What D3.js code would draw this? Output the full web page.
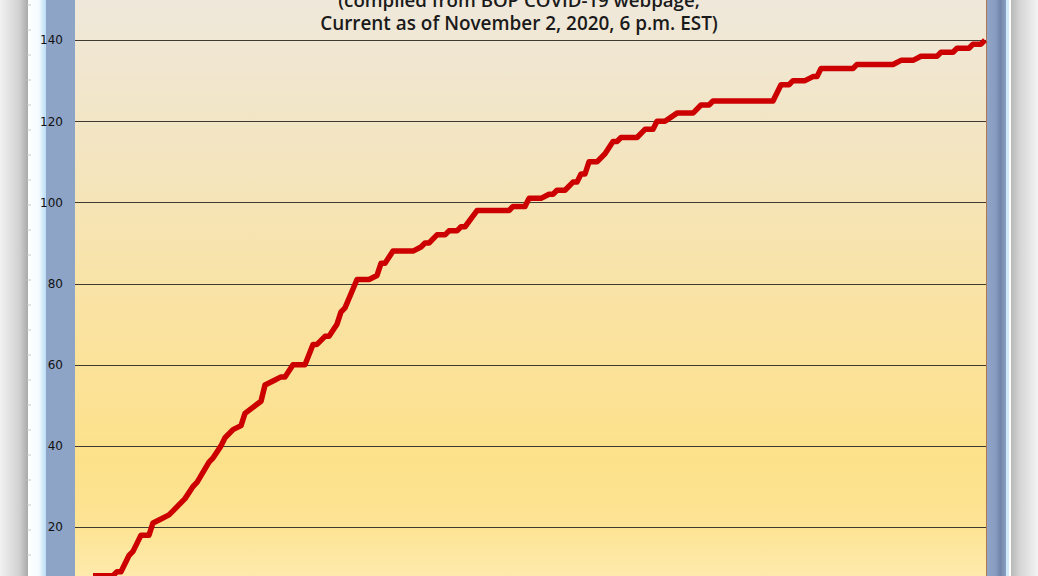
<!DOCTYPE html>
<html><head><meta charset="utf-8">
<script src="https://cdn.jsdelivr.net/npm/d3@7"></script>
<style>html,body{margin:0;padding:0;background:#fff;overflow:hidden}</style>
</head><body>
<svg id="c" width="1038" height="576"></svg>
<script>
// Day index since first data point (daily), and cumulative deaths
const days   = [0,5,6,7,9,10,12,14,15,17,19,20,23,25,26,29,30,32,33,35,37,38,42,43,45,47,48,50,53,55,56,58,59,61,62,63,66,69,71,72,73,75,80,82,83,84,86,88,89,91,92,93,96,104,105,108,109,112,114,115,116,118,120,121,122,123,124,126,128,130,131,132,136,138,140,141,143,146,150,152,154,155,170,172,174,175,178,180,181,182,190,191,200,202,205,207,211,212,215,216,219,220,222,223];
const deaths = [8,8,9,9,13,14,18,18,21,22,23,24,27,30,31,36,37,40,42,44,45,48,51,55,56,57,57,60,60,65,65,67,67,70,73,74,81,81,82,85,85,88,88,89,90,90,92,92,93,93,94,94,98,98,99,99,101,101,102,102,103,103,105,105,107,107,110,110,112,115,115,116,116,118,118,120,120,122,122,124,124,125,125,129,129,130,130,131,131,133,133,134,134,135,135,136,136,137,137,138,138,139,139,140];
const yTicks = [20,40,60,80,100,120,140];
const titleLines = ["(compiled from BOP COVID-19 webpage,", "Current as of November 2, 2020, 6 p.m. EST)"];

const svg = d3.select("#c");
const W = 1038, H = 576;
const plot = {x0: 75, x1: 986};
const defs = svg.append("defs");

// shadows
const gl = defs.append("linearGradient").attr("id","shL");
gl.append("stop").attr("offset","0%").attr("stop-color","#f2f2f2");
gl.append("stop").attr("offset","70%").attr("stop-color","#d0d0d0");
gl.append("stop").attr("offset","100%").attr("stop-color","#a9a9a9");
const gr = defs.append("linearGradient").attr("id","shR");
gr.append("stop").attr("offset","0%").attr("stop-color","#b9b9b9");
gr.append("stop").attr("offset","35%").attr("stop-color","#d6d6d6");
gr.append("stop").attr("offset","100%").attr("stop-color","#f3f3f3");
const gw = defs.append("linearGradient").attr("id","wl");
gw.append("stop").attr("offset","0%").attr("stop-color","#ffffff");
gw.append("stop").attr("offset","60%").attr("stop-color","#f4fbff");
gw.append("stop").attr("offset","100%").attr("stop-color","#b9dcf4");
const gb = defs.append("linearGradient").attr("id","br");
gb.append("stop").attr("offset","0%").attr("stop-color","#8fa4c6");
gb.append("stop").attr("offset","45%").attr("stop-color","#879cc0");
gb.append("stop").attr("offset","70%").attr("stop-color","#6f84a8");
gb.append("stop").attr("offset","100%").attr("stop-color","#8aa0c2");
const gp = defs.append("linearGradient").attr("id","pg").attr("x1",0).attr("y1",0).attr("x2",0).attr("y2",1);
[["0%","#efe8db"],["25%","#f3e5c2"],["50%","#f9e3a6"],["80%","#fde18a"],["92%","#fde495"],["100%","#feeaac"]]
  .forEach(s=>gp.append("stop").attr("offset",s[0]).attr("stop-color",s[1]));

svg.append("rect").attr("x",0).attr("y",0).attr("width",28).attr("height",H).attr("fill","url(#shL)");
svg.append("rect").attr("x",28).attr("y",0).attr("width",18).attr("height",H).attr("fill","url(#wl)");
svg.append("rect").attr("x",46).attr("y",0).attr("width",plot.x0-46).attr("height",H).attr("fill","#8ea4c7");
svg.append("rect").attr("x",plot.x1+1).attr("y",0).attr("width",19).attr("height",H).attr("fill","url(#br)");
svg.append("rect").attr("x",1006).attr("y",0).attr("width",3).attr("height",H).attr("fill","#cfeaf8");
svg.append("rect").attr("x",1009).attr("y",0).attr("width",2).attr("height",H).attr("fill","#ffffff");
svg.append("rect").attr("x",1011).attr("y",0).attr("width",27).attr("height",H).attr("fill","url(#shR)");

// faint ticks on the left white strip
for (let yy = 5; yy < H; yy += 25) {
  svg.append("line").attr("x1",27).attr("x2",31).attr("y1",yy).attr("y2",yy).attr("stroke","#c8c8c8");
}

svg.append("rect").attr("x",plot.x0).attr("y",0).attr("width",plot.x1-plot.x0).attr("height",H).attr("fill","url(#pg)");
svg.append("line").attr("x1",plot.x1+0.5).attr("x2",plot.x1+0.5).attr("y1",0).attr("y2",H).attr("stroke","#b07850").attr("stroke-width",1);

const x = d3.scaleLinear().domain([0,223]).range([93,985]);
const y = d3.scaleLinear().domain([0,150]).range([608.2,-0.5]);

// gridlines
svg.append("g").selectAll("line").data(yTicks).join("line")
  .attr("x1",plot.x0).attr("x2",plot.x1)
  .attr("y1",d=>Math.round(y(d))+0.5).attr("y2",d=>Math.round(y(d))+0.5)
  .attr("stroke","#3f3a30").attr("stroke-width",1.1);

// y axis labels
const ax = svg.append("g").attr("transform",`translate(${plot.x0},0)`)
  .call(d3.axisLeft(y).tickValues(yTicks).tickSize(0).tickPadding(12));
ax.select(".domain").remove();
ax.selectAll("text").attr("font-family","DejaVu Sans, Verdana, sans-serif").attr("font-size",12).attr("fill","#111");

// line
const pts = days.map((d,i)=>[d,deaths[i]]);
svg.append("path").datum(pts)
  .attr("d", d3.line().x(d=>x(d[0])).y(d=>y(d[1])))
  .attr("fill","none").attr("stroke","#cc0000").attr("stroke-width",5.5)
  .attr("stroke-linejoin","round").attr("stroke-linecap","butt");

// title
const targetW = [362, 398];
const baseY = [7, 30];
titleLines.forEach((t,i)=>{
  const tx = svg.append("text").attr("x",519).attr("y",baseY[i]).attr("text-anchor","middle")
    .attr("font-family","Open Sans, sans-serif").attr("font-weight",600).attr("font-size",16)
    .attr("fill","#1a1a1a").text(t);
  const w = tx.node().getComputedTextLength();
  tx.attr("font-size", 16*targetW[i]/w);
});
</script>
</body></html>
